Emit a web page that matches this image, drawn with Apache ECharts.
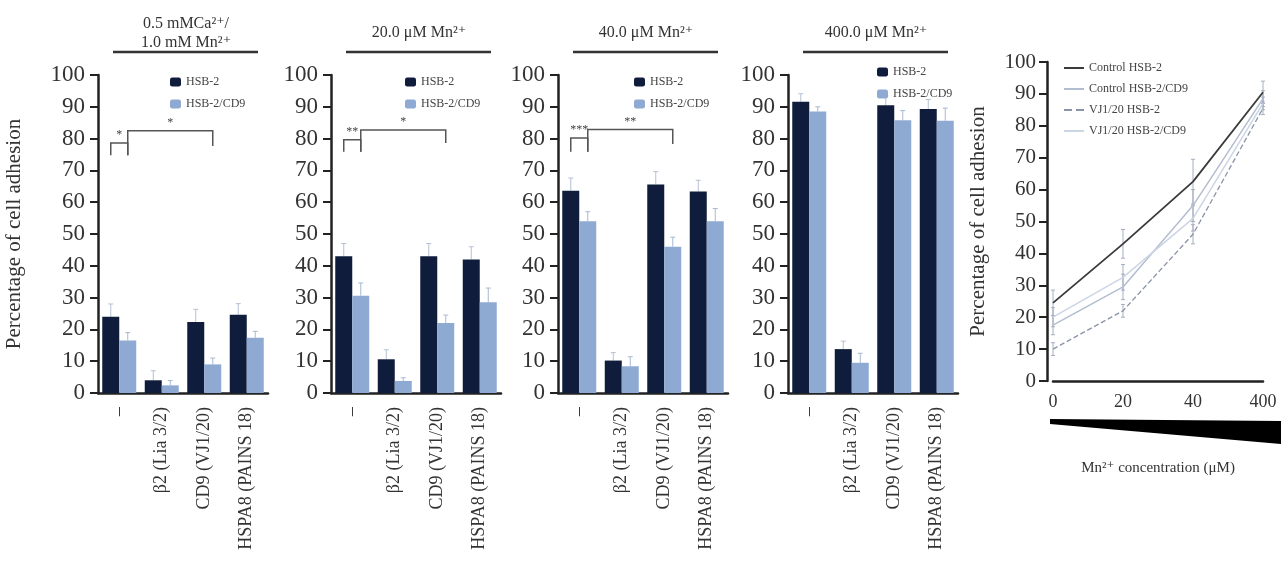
<!DOCTYPE html>
<html>
<head>
<meta charset="utf-8">
<script src="https://cdn.jsdelivr.net/npm/echarts@6/dist/echarts.min.js"></script>
<style>
  html, body { margin: 0; padding: 0; background: #fff; }
  #chart { width: 1282px; height: 575px; }
</style>
</head>
<body>
<div id="chart"></div>
<script>
// categories of antibody treatment
var categories = ['–', 'β2 (Lia 3/2)', 'CD9 (VJ1/20)', 'HSPA8 (PAINS 18)'];
var panelTitles = ['0.5 mMCa²⁺/\n1.0 mM Mn²⁺', '20.0 μM Mn²⁺', '40.0 μM Mn²⁺', '400.0 μM Mn²⁺'];

// bar panels: mean and error (upper) per category
var hsb2Ca = [24, 4, 22.3, 24.6];
var hsb2CaErr = [4, 3, 4, 3.5];
var cd9Ca = [16.5, 2.4, 9, 17.4];
var cd9CaErr = [2.5, 1.5, 2, 2];

var hsb2Mn20 = [43, 10.6, 43, 42];
var hsb2Mn20Err = [4, 3, 4, 4];
var cd9Mn20 = [30.6, 3.8, 22, 28.5];
var cd9Mn20Err = [4, 1, 2.5, 4.5];

var hsb2Mn40 = [63.6, 10.2, 65.6, 63.4];
var hsb2Mn40Err = [4, 2.5, 4, 3.5];
var cd9Mn40 = [54, 8.4, 46, 54];
var cd9Mn40Err = [3, 3, 3, 4];

var hsb2Mn400 = [91.6, 13.8, 90.5, 89.3];
var hsb2Mn400Err = [2.5, 2.5, 3, 3];
var cd9Mn400 = [88.5, 9.5, 85.8, 85.6];
var cd9Mn400Err = [1.5, 3, 3, 4];

// line panel: Mn2+ concentration series
var mnLevels = ['0', '20', '40', '400'];
var ctrlHsb2 = [24.5, 43, 62.5, 90.5];
var ctrlHsb2Err = [4, 4.5, 7, 3.5];
var ctrlCd9 = [17.5, 29.5, 55, 88.5];
var ctrlCd9Err = [3, 4, 5, 2.5];
var vjHsb2 = [10, 22, 46, 85.5];
var vjHsb2Err = [2, 2, 3, 2];
var vjCd9 = [20, 32.5, 51, 87];
var vjCd9Err = [3, 4, 4, 2];

// significance brackets: [panel, fromCat, fromSide, toCat, toSide, y, yLeftEnd, yRightEnd, mark]
var brackets = [
  [0, 0, -1, 0, 1, 78.6, 74.8, 74.8, '*'],
  [0, 0, 1, 2, 1, 82.5, 74.8, 77.7, '*'],
  [1, 0, -1, 0, 1, 79.6, 75.9, 75.9, '**'],
  [1, 0, 1, 2, 1, 82.7, 75.9, 78.6, '*'],
  [2, 0, -1, 0, 1, 80.2, 75.9, 75.9, '***'],
  [2, 0, 1, 2, 1, 82.9, 75.9, 78.3, '**']
];

var panels = [
  [hsb2Ca, hsb2CaErr, cd9Ca, cd9CaErr],
  [hsb2Mn20, hsb2Mn20Err, cd9Mn20, cd9Mn20Err],
  [hsb2Mn40, hsb2Mn40Err, cd9Mn40, cd9Mn40Err],
  [hsb2Mn400, hsb2Mn400Err, cd9Mn400, cd9Mn400Err]
];

var FONT = '"Liberation Serif", "DejaVu Serif", serif';
var DARK = '#0f1c3b';
var LIGHT = '#8eaad3';
var panelLeft = [98, 331, 558, 788];
var legendPos = [[165, 71], [400, 71], [629, 71], [872, 61]];
var BAR_W = 17;

function barErrors(gi, values, errs, side, color) {
  return {
    type: 'custom', xAxisIndex: gi, yAxisIndex: gi, silent: true, z: 1,
    data: values.map(function (v, i) { return [i, v, v + errs[i]]; }),
    renderItem: function (params, api) {
      var b = api.coord([api.value(0), api.value(1)]);
      var t = api.coord([api.value(0), api.value(2)]);
      var x = b[0] + side * BAR_W / 2;
      return { type: 'group', children: [
        { type: 'line', shape: { x1: x, y1: b[1], x2: x, y2: t[1] }, style: { stroke: color, lineWidth: 1 } },
        { type: 'line', shape: { x1: x - 2.5, y1: t[1], x2: x + 2.5, y2: t[1] }, style: { stroke: color, lineWidth: 1 } }
      ] };
    }
  };
}

function lineErrors(values, errs, color) {
  return {
    type: 'custom', xAxisIndex: 4, yAxisIndex: 4, silent: true, z: 1,
    data: values.map(function (v, i) { return [i, v - errs[i], v + errs[i]]; }),
    renderItem: function (params, api) {
      var lo = api.coord([api.value(0), api.value(1)]);
      var hi = api.coord([api.value(0), api.value(2)]);
      var x = lo[0];
      var st = { stroke: color, lineWidth: 1 };
      return { type: 'group', children: [
        { type: 'line', shape: { x1: x, y1: lo[1], x2: x, y2: hi[1] }, style: st },
        { type: 'line', shape: { x1: x - 2, y1: lo[1], x2: x + 2, y2: lo[1] }, style: st },
        { type: 'line', shape: { x1: x - 2, y1: hi[1], x2: x + 2, y2: hi[1] }, style: st }
      ] };
    }
  };
}

var grids = [], xAxes = [], yAxes = [], series = [], legends = [], graphics = [];

panels.forEach(function (p, i) {
  grids.push({ left: panelLeft[i], top: 75, width: 170, height: 318 });
  xAxes.push({
    gridIndex: i, type: 'category', data: categories,
    axisLine: { lineStyle: { color: '#222', width: 2.5 } },
    axisTick: { show: false },
    axisLabel: { rotate: 90, fontSize: 18, fontFamily: FONT, color: '#333', margin: 14, interval: 0 }
  });
  yAxes.push({
    gridIndex: i, type: 'value', min: 0, max: 100, interval: 10,
    name: i === 0 ? 'Percentage of cell adhesion' : '',
    nameLocation: 'middle', nameGap: 73,
    nameTextStyle: { fontSize: 21, fontFamily: FONT, color: '#333' },
    splitLine: { show: false },
    axisLine: { show: true, lineStyle: { color: '#222', width: 2.5 } },
    axisTick: { show: true, length: 8, lineStyle: { width: 2 } },
    axisLabel: { fontSize: 23, fontFamily: FONT, color: '#333', margin: 13 }
  });
  series.push({
    name: 'HSB-2', type: 'bar', xAxisIndex: i, yAxisIndex: i, data: p[0],
    barWidth: BAR_W, barGap: '0%', itemStyle: { color: DARK }, z: 2
  });
  series.push({
    name: 'HSB-2/CD9', type: 'bar', xAxisIndex: i, yAxisIndex: i, data: p[2],
    barWidth: BAR_W, barGap: '0%', itemStyle: { color: LIGHT }, z: 2
  });
  series.push(barErrors(i, p[0], p[1], -1, '#b5c0d3'));
  series.push(barErrors(i, p[2], p[3], 1, '#a8b8d2'));
  legends.push({
    data: ['HSB-2', 'HSB-2/CD9'], orient: 'vertical',
    left: legendPos[i][0], top: legendPos[i][1],
    itemWidth: 11, itemHeight: 9, itemGap: 10,
    textStyle: { fontSize: 12, fontFamily: FONT, color: '#444' }
  });
  // panel heading with rule
  var cx = panelLeft[i] + 88;
  graphics.push({
    type: 'text', x: cx, y: 33,
    style: { text: panelTitles[i], align: 'center', verticalAlign: 'middle',
      fontSize: 16, fontFamily: FONT, fill: '#333', lineHeight: 19 }
  });
  graphics.push({
    type: 'line', shape: { x1: panelLeft[i] + 15, y1: 52, x2: panelLeft[i] + 160, y2: 52 },
    style: { stroke: '#333', lineWidth: 2.5 }
  });
});

// line chart panel
grids.push({ left: 1053, top: 62, width: 210, height: 319 });
xAxes.push({
  gridIndex: 4, type: 'category', data: mnLevels, boundaryGap: false,
  name: 'Mn²⁺ concentration (μM)', nameLocation: 'middle', nameGap: 80,
  nameTextStyle: { fontSize: 15, fontFamily: FONT, color: '#333' },
  axisLine: { lineStyle: { color: '#222', width: 2.5 } },
  axisTick: { show: false },
  axisLabel: { fontSize: 18, fontFamily: FONT, color: '#333', margin: 12 }
});
yAxes.push({
  gridIndex: 4, type: 'value', min: 0, max: 100, interval: 10, offset: 6,
  name: 'Percentage of cell adhesion', nameLocation: 'middle', nameGap: 58,
  nameTextStyle: { fontSize: 21, fontFamily: FONT, color: '#333' },
  splitLine: { show: false },
  axisLine: { show: true, lineStyle: { color: '#222', width: 2.5 } },
  axisTick: { show: true, length: 8, lineStyle: { width: 2 } },
  axisLabel: { fontSize: 21, fontFamily: FONT, color: '#333', margin: 11 }
});

var lineDefs = [
  ['Control HSB-2', ctrlHsb2, ctrlHsb2Err, '#3a3a3a', 'solid', 1.8],
  ['Control HSB-2/CD9', ctrlCd9, ctrlCd9Err, '#b3bdd0', 'solid', 1.5],
  ['VJ1/20 HSB-2', vjHsb2, vjHsb2Err, '#8a94a8', 'dashed', 1.3],
  ['VJ1/20 HSB-2/CD9', vjCd9, vjCd9Err, '#ccd5e4', 'solid', 1.5]
];
lineDefs.forEach(function (d) {
  series.push({
    name: d[0], type: 'line', xAxisIndex: 4, yAxisIndex: 4, data: d[1],
    symbol: 'none', z: 2,
    lineStyle: { color: d[3], type: d[4], width: d[5] },
    itemStyle: { color: d[3] }
  });
  series.push(lineErrors(d[1], d[2], '#a4aec0'));
});
legends.push({
  data: lineDefs.map(function (d) { return d[0]; }), orient: 'vertical',
  left: 1058, top: 57, itemWidth: 20, itemHeight: 8, itemGap: 9,
  itemStyle: { opacity: 0 },
  textStyle: { fontSize: 12, fontFamily: FONT, color: '#444' }
});

// concentration wedge under the line chart
graphics.push({
  type: 'polygon',
  shape: { points: [[1050, 419], [1281, 421], [1281, 444], [1050, 424]] },
  style: { fill: '#000' }
});

var chart = echarts.init(document.getElementById('chart'));
chart.setOption({
  animation: false,
  backgroundColor: '#fff',
  grid: grids, xAxis: xAxes, yAxis: yAxes,
  legend: legends, series: series
});

// significance brackets positioned from the axes
brackets.forEach(function (b) {
  var f = { xAxisIndex: b[0], yAxisIndex: b[0] };
  var pA = chart.convertToPixel(f, [b[1], b[5]]);
  var pB = chart.convertToPixel(f, [b[3], b[5]]);
  var x1 = pA[0] + b[2] * BAR_W / 2;
  var x2 = pB[0] + b[4] * BAR_W / 2;
  var y = pA[1];
  var yl = chart.convertToPixel(f, [b[1], b[6]])[1];
  var yr = chart.convertToPixel(f, [b[3], b[7]])[1];
  graphics.push({
    type: 'polyline', shape: { points: [[x1, yl], [x1, y], [x2, y], [x2, yr]] },
    style: { stroke: '#555', lineWidth: 1.5, fill: null }
  });
  graphics.push({
    type: 'text', x: (x1 + x2) / 2, y: y - 2,
    style: { text: b[8], align: 'center', verticalAlign: 'bottom',
      fontSize: 12, fontFamily: FONT, fill: '#444' }
  });
});

chart.setOption({ graphic: graphics });
</script>
</body>
</html>
